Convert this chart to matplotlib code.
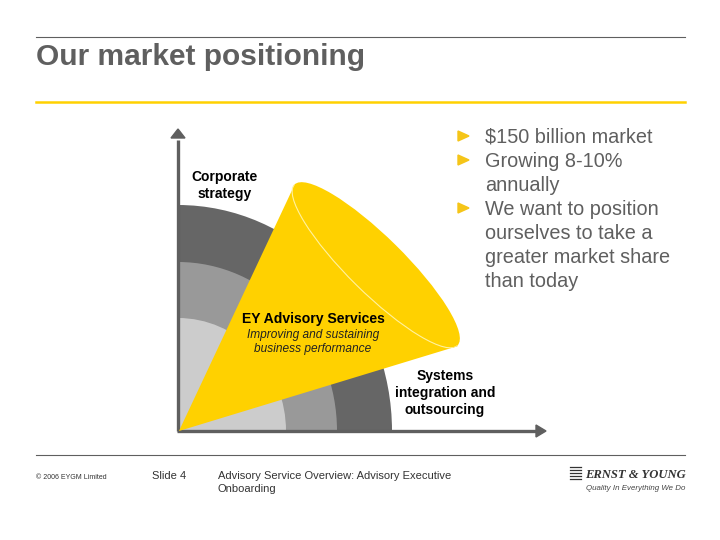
#!/usr/bin/env python3
"""Slide: market positioning diagram with cone over quarter rings."""

import matplotlib

matplotlib.use("Agg")
import matplotlib.pyplot as plt
from matplotlib.patches import Ellipse, Polygon, Wedge
from matplotlib.transforms import Affine2D

GREY = "#5f5f5f"
YELLOW = "#ffd100"

# ring sizes, outermost first: (width, height) in pixels
RING_WIDTHS = [214, 159, 108]
RING_HEIGHTS = [226, 169, 113]
RING_COLORS = ["#666666", "#999999", "#cccccc"]

BULLETS = ["$150 billion market", "Growing 8-10%", "annually", "We want to position",
           "ourselves to take a", "greater market share", "than today"]
BULLET_MARKS = [True, True, False, True, False, False, False]

ORIGIN = (178, 431)


def draw_rings(ax):
    for w, h, color in zip(RING_WIDTHS, RING_HEIGHTS, RING_COLORS):
        ring = Wedge((0, 0), 1, 0, 90, facecolor=color, edgecolor="none", zorder=2)
        ring.set_transform(Affine2D().scale(w, -h).translate(*ORIGIN) + ax.transData)
        ax.add_patch(ring)


def draw_axes(ax):
    ax.plot([ORIGIN[0], ORIGIN[0]], [431, 140], color=GREY, lw=2.4, zorder=3, solid_capstyle="butt")
    ax.plot([177, 536], [431, 431], color=GREY, lw=2.4, zorder=3, solid_capstyle="butt")
    ax.add_patch(Polygon([(171, 138), (185, 138), (178, 129)], color=GREY, zorder=3))
    ax.add_patch(Polygon([(536, 425), (536, 437), (546, 431)], color=GREY, zorder=3))


def draw_cone(ax):
    ax.add_patch(Polygon([(179, 431), (294, 186), (458, 346)], facecolor=YELLOW,
                         edgecolor="none", zorder=4))
    ax.add_patch(Ellipse((376, 265), 229, 56, angle=44.6, facecolor=YELLOW,
                         edgecolor="none", zorder=4))
    # only the lower half of the mouth shows a light edge
    lip = Ellipse((376, 265), 229, 56, angle=44.6, fill=False, edgecolor="#fff2a0", lw=0.8, zorder=5)
    ax.add_patch(lip)
    lip.set_clip_path(Polygon([(294, 184), (458, 346), (300, 400), (230, 250)], transform=ax.transData))


def draw_labels(ax):
    kw = dict(ha="center", va="baseline", color="black", fontsize=10, fontweight="bold", zorder=6)
    ax.text(224.5, 181, "Corporate", **kw)
    ax.text(224.5, 198, "strategy", **kw)
    ax.text(445, 380, "Systems", **kw)
    ax.text(445, 397, "integration and", **kw)
    ax.text(445, 414, "outsourcing", **kw)
    ax.text(313, 323, "EY Advisory Services", ha="center", va="baseline", color="black",
            fontsize=10.1, fontweight="bold", zorder=6)
    ax.text(313, 338, "Improving and sustaining", ha="center", va="baseline", color="#222222",
            fontsize=8.6, style="italic", zorder=6)
    ax.text(313, 352, "business performance", ha="center", va="baseline", color="#222222",
            fontsize=8.6, style="italic", zorder=6)


def draw_bullets(ax):
    for i, (line, marked) in enumerate(zip(BULLETS, BULLET_MARKS)):
        y = 143 + i * 24
        ax.text(485, y, line, ha="left", va="baseline", color=GREY, fontsize=14.3, zorder=6)
        if marked:
            ax.add_patch(Polygon([(458, y - 12), (458, y - 2), (469, y - 7)], color="#f5c518", zorder=6))


def draw_footer(ax):
    ax.plot([36, 685], [455, 455], color=GREY, lw=0.8)
    ax.text(36, 479, "© 2006 EYGM Limited", ha="left", va="baseline", color="#333333", fontsize=5)
    ax.text(152, 479, "Slide 4", ha="left", va="baseline", color="#333333", fontsize=8)
    ax.text(218, 479, "Advisory Service Overview: Advisory Executive", ha="left", va="baseline",
            color="#333333", fontsize=8)
    ax.text(218, 492, "Onboarding", ha="left", va="baseline", color="#333333", fontsize=8)
    # logo
    for y in (467, 470, 473, 476, 479):
        ax.plot([570, 581], [y, y], color="#333333", lw=0.9)
    ax.text(585, 478, "ERNST & YOUNG", ha="left", va="baseline", family="Liberation Serif",
            style="italic", fontweight="bold", color="#333333", fontsize=9.1)
    ax.text(685, 490, "Quality In Everything We Do", ha="right", va="baseline",
            style="italic", color="#444444", fontsize=5.7)


def main():
    plt.rcParams["font.family"] = ["Liberation Sans", "DejaVu Sans"]
    fig = plt.figure(figsize=(7.2, 5.4), dpi=100)
    ax = fig.add_axes([0, 0, 1, 1])
    ax.set_xlim(0, 720)
    ax.set_ylim(540, 0)
    ax.axis("off")

    ax.plot([36, 685], [37, 37], color=GREY, lw=0.8)
    ax.plot([36, 685], [102, 102], color=YELLOW, lw=1.8)
    ax.text(36, 65, "Our market positioning", ha="left", va="baseline", color=GREY,
            fontsize=21.5, fontweight="bold")

    draw_rings(ax)
    draw_axes(ax)
    draw_cone(ax)
    draw_labels(ax)
    draw_bullets(ax)
    draw_footer(ax)

    fig.savefig("out.png", dpi=100)
    plt.close(fig)


if __name__ == "__main__":
    main()
